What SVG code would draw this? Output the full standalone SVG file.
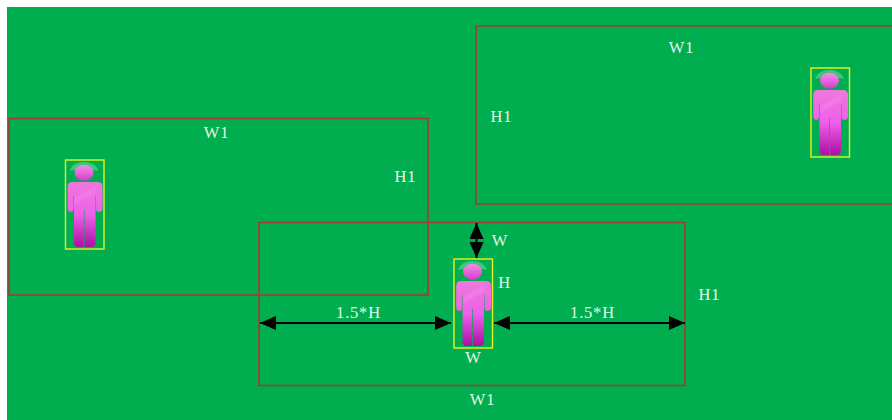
<svg xmlns="http://www.w3.org/2000/svg" width="892" height="420" viewBox="0 0 892 420">
<style>
.zone{fill:none;stroke:#a03c30;stroke-width:1.6}
.box{fill:none;stroke:#e6f21e;stroke-width:1.4}
.t{font-family:"Liberation Serif",serif;font-size:16.500px;letter-spacing:0.800px;fill:#e4f6ec;text-anchor:middle}
.dim{fill:none;stroke:#000;stroke-width:2}
</style>
<defs>
<linearGradient id="bodyG" x1="0" y1="0" x2="0" y2="1">
<stop offset="0" stop-color="#ee78dc"/><stop offset="0.5" stop-color="#ee60ea"/><stop offset="1" stop-color="#aa10a4"/>
</linearGradient>
<linearGradient id="headG" x1="0" y1="0" x2="0" y2="1">
<stop offset="0" stop-color="#f090e4"/><stop offset="1" stop-color="#d63cd0"/>
</linearGradient>
<marker id="ah" viewBox="0 0 16 14" refX="16" refY="7" markerWidth="16" markerHeight="14" markerUnits="userSpaceOnUse" orient="auto-start-reverse">
<path d="M0 0L16 7L0 14z" fill="#000"/>
</marker>
<g id="person">
<rect class="box" x="0" y="0" width="38.500" height="89"/>
<path d="M4 11Q7 2 18.500 2Q30 2 33 11Q26 9 18.500 9Q11 9 4 11z" fill="#3fc67c"/>
<ellipse cx="18.500" cy="12.700" rx="9.500" ry="8" fill="url(#headG)"/>
<path d="M7 22Q2.200 22 2.200 27V48Q2.200 52 5.500 52Q8 52 8 48V36H8.500V83Q8.500 87 13 87H17.700Q18.300 87 18.300 84V50H19V84Q19 87 20 87H25.500Q30 87 30 83V36H30.500V48Q30.500 52 33.500 52Q37 52 37 48V27Q37 22 32 22z" fill="url(#bodyG)"/>
<path d="M9 38L30 26V33L9 45z" fill="#f48cf0" opacity="0.35"/>
</g>
</defs>
<rect x="7" y="7" width="885" height="413" fill="#00ae50"/>
<g id="zone-left"><rect class="zone" x="9" y="118.500" width="419" height="176.500"/></g>
<g id="zone-right"><path class="zone" d="M892 26H476V204H892"/></g>
<g id="zone-center"><rect class="zone" x="259" y="222.500" width="426" height="163"/></g>
<g id="person-left"><use href="#person" x="65.500" y="160"/></g>
<g id="person-right"><use href="#person" x="811" y="68"/></g>
<g id="person-center"><use href="#person" x="454" y="259"/></g>
<g id="connectors">
<path class="dim" d="M476.500 223V258" marker-start="url(#ah)" marker-end="url(#ah)"/>
<path class="dim" d="M260 323H451" marker-start="url(#ah)" marker-end="url(#ah)"/>
<path class="dim" d="M494 323H685" marker-start="url(#ah)" marker-end="url(#ah)"/>
</g>
<g id="labels">
<text class="t" x="216.500" y="138">W1</text>
<text class="t" x="405.500" y="182">H1</text>
<text class="t" x="681.500" y="53">W1</text>
<text class="t" x="501.500" y="122">H1</text>
<text class="t" x="500" y="246">W</text>
<text class="t" x="504.500" y="288">H</text>
<text class="t" x="358.500" y="318">1.5*H</text>
<text class="t" x="592.500" y="318">1.5*H</text>
<text class="t" x="473.500" y="363">W</text>
<text class="t" x="709.500" y="300">H1</text>
<text class="t" x="482.500" y="405">W1</text>
</g>
</svg>
